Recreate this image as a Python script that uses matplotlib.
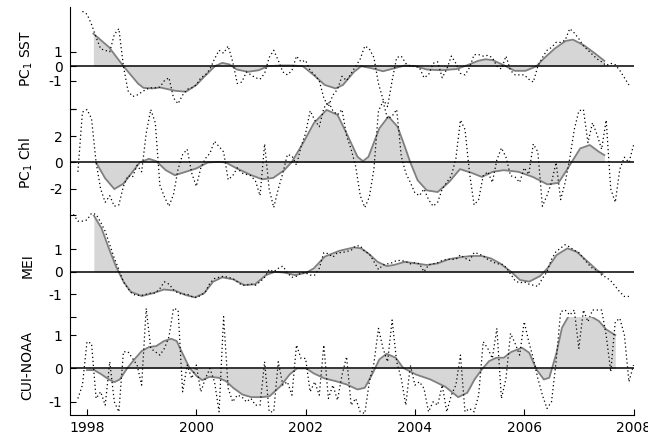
import matplotlib
matplotlib.use('Agg')
import matplotlib.pyplot as plt
import numpy as np

# monthly raw series (dotted), month 0 = Jan 1998
sst_raw_start = -1
sst_raw = [3.8, 3.6, 2.9, 2.0, 1.2, 1.1, 1.0, 2.2, 2.6, 0.0,
           -1.7, -2.1, -2.0, -1.8, -1.6, -1.5, -1.5, -1.45, -1.0, -0.8,
           -2.2, -2.6, -2.0, -1.6, -1.5, -1.3, -0.8, -0.6, -0.2, 0.5,
           1.1, 0.9, 1.4, 0.3, -1.2, -1.1, -0.4, -0.6, -0.8, -0.9,
           -0.5, 0.6, 1.1, 0.4, -0.4, -0.6, -0.3, 0.7, 0.3, 0.4,
           -0.3, -0.6, -1.0, -2.2, -2.8, -2.0, -1.6, -0.7, -1.0, -0.5,
           0.0, 0.5, 1.4, 1.2, 0.6, -1.2, -2.3, -2.8, -1.0, 0.6,
           0.7, 0.2, 0.0, 0.0, -0.1, -0.8, -0.6, 0.2, 0.3, -0.8,
           -0.2, 0.7, 0.2, -0.5, -0.6, -0.1, 0.8, 0.8, 0.7, 0.75,
           0.6, 0.0, -0.2, 0.7, -0.3, -0.6, -0.6, -0.6, -0.9, -1.1,
           0.0, 0.6, 1.1, 1.3, 1.65, 1.65, 1.8, 2.6, 2.3, 1.9,
           1.4, 1.1, 0.8, 0.5, 0.3, 0.05, 0.2, 0.1, -0.3, -0.8, -1.3]

chl_raw_start = -2
chl_raw = [-0.7, 3.8, 4.0, 3.3, 0.0, -2.0, -3.0, -2.5, -3.3, -3.2,
           -1.8, -1.0, -1.1, -0.2, -0.7, 2.2, 4.0, 3.0, -1.7, -2.6,
           -3.3, -2.4, -0.5, 0.6, 1.0, -0.8, -1.8, -0.4, 0.3, 0.7,
           1.6, 1.2, 0.8, -1.3, -1.0, -0.4, -0.8, -0.9, -1.0, -1.4,
           -2.5, 1.4, -2.0, -3.4, -2.0, -0.8, 0.6, 0.5, -0.2, 1.2,
           2.2, 3.9, 3.2, 2.7, 4.1, 4.6, 3.9, 3.6, 4.0, 2.0,
           1.0, -0.3, -2.5, -3.4, -2.6, -0.5, 3.9, 4.6, 3.3, 3.5,
           4.0, 0.5, -0.8, -1.5, -2.3, -2.5, -2.0, -2.8, -3.3, -3.0,
           -2.0, -1.5, -1.0, 0.3, 3.2, 2.5, -0.8, -3.2, -2.8, -1.0,
           -0.7, -1.5, 0.2, 1.1, 0.4, -1.0, -1.1, -1.5, -0.4, -0.9,
           1.4, 0.8, -3.3, -2.5, -1.5, 0.0, -2.8, -1.5, 0.3, 2.5,
           3.9, 4.0, 1.5, 3.0, 2.1, 1.0, 3.2, -2.0, -3.0, -0.5,
           0.4, 0.0, 1.3]

mei_raw_start = -3
mei_raw = [2.55, 2.25, 2.25, 2.3, 2.6, 2.55, 2.2, 1.8, 1.2, 0.6,
           0.1, -0.45, -0.75, -1.0, -1.05, -1.05, -1.0, -0.95, -0.95, -0.75,
           -0.45, -0.55, -0.8, -0.95, -1.0, -1.0, -1.1, -1.15, -1.05, -0.9,
           -0.5, -0.3, -0.25, -0.2, -0.25, -0.3, -0.45, -0.6, -0.6, -0.55,
           -0.6, -0.45, -0.25, 0.1, 0.0, 0.15, 0.25, -0.05, -0.25, -0.2,
           -0.05, -0.05, -0.15, -0.15, 0.15, 0.85, 0.8, 0.65, 0.85, 0.85,
           0.9, 0.95, 1.15, 1.15, 0.9, 0.8, 0.45, 0.1, 0.3, 0.35,
           0.4, 0.5, 0.5, 0.45, 0.35, 0.4, 0.35, 0.0, 0.3, 0.35,
           0.4, 0.5, 0.55, 0.55, 0.55, 0.75, 0.6, 0.5, 0.85, 0.8,
           0.7, 0.55, 0.45, 0.35, 0.35, 0.2, -0.1, -0.4, -0.5, -0.45,
           -0.55, -0.6, -0.65, -0.3, 0.0, 0.55, 0.9, 1.05, 1.2, 1.1,
           0.95, 0.85, 0.6, 0.35, 0.15, 0.05, -0.15, -0.25, -0.4, -0.65,
           -0.9, -1.1, -1.1]

cui_raw_start = -2
cui_raw = [-0.9, -0.5, 0.8, 0.75, -0.9, -0.7, -1.1, 0.2, -1.0, -1.3,
           0.5, 0.5, 0.3, 0.1, -0.5, 1.8, 0.6, 0.5, 0.4, 0.6,
           0.95, 1.8, 1.75, -0.7, 0.1, -0.3, 0.1, -0.7, -0.3, 0.0,
           -0.4, -1.3, 1.55, -0.6, -1.0, -0.8, -0.85, -1.0, -0.9, -1.1,
           -1.1, 0.2, -1.3, -1.3, 0.2, -0.5, -0.4, -0.8, 0.7, 0.3,
           0.3, -0.7, -0.4, -0.8, 0.7, -0.9, -0.5, -0.95, -0.2, 0.35,
           -1.1, -0.9, -1.3, -1.35, -0.4, 0.15, 1.2, 0.6, 0.2, 1.45,
           0.2, -0.3, -1.1, 0.1, -0.5, -0.4, -0.6, -1.3, -1.0, -1.1,
           -0.5, -1.3, -0.8, -0.5, 0.4, -1.3, -1.2, -1.3, -0.8, 0.8,
           0.6, 0.3, 1.2, -0.9, -0.3, 1.05, 0.75, 0.4, 1.4, 0.8,
           0.3, -0.3, -0.8, -1.2, -1.0, 0.2, 1.7, 1.75, 1.6, 1.75,
           0.6, 1.75, 1.4, 1.75, 1.75, 1.75, 1.0, -0.1, 1.4, 1.5,
           1.0, -0.4, 0.1]

# smoothed series (shaded), given at month positions
sst_sm_m = [1.4, 4.8, 8, 11.2, 12.4, 14.4, 16, 19.3, 21.7, 24, 25.7, 28.1,
            29.7, 31.3, 32.9, 35.3, 37.7, 39.7, 42.5, 45, 47.4, 49.8, 52.2,
            54.6, 56.2, 58.6, 60.2, 62.6, 65, 67.4, 69.8, 72.2, 74.6, 77.8,
            81.1, 83.5, 85.9, 87.5, 89.1, 91.5, 93.9, 96.3, 98.7, 100.3,
            102.7, 105.1, 106.7, 109.1, 111.6, 113.6]
sst_sm_v = [2.25, 1.33, 0.0, -1.2, -1.5, -1.54, -1.47, -1.7, -1.77, -1.3,
            -0.74, 0.0, 0.23, 0.12, -0.23, -0.39, -0.28, 0.0, 0.05, 0.05,
            0.0, -0.62, -1.3, -1.54, -1.3, -0.4, 0.0, -0.15, -0.35, -0.15,
            0.05, 0.0, -0.23, -0.28, -0.2, 0.07, 0.37, 0.48, 0.42, 0.07,
            -0.32, -0.32, 0.0, 0.53, 1.22, 1.75, 1.84, 1.45, 0.87, 0.37]

chl_sm_m = [2, 4, 6, 8, 10, 11.6, 13.6, 15.2, 17.3, 19.3, 21.7, 24, 26.5,
            28.9, 30.5, 32.9, 36.1, 38.5, 40.9, 43.3, 45, 47.4, 49.8, 52.6,
            55, 57, 59.4, 60.6, 61.8, 64.2, 66.2, 68.2, 69.8, 71, 72.6, 74.6,
            77, 79.5, 81.9, 84.3, 86.7, 89.1, 91.5, 94.7, 97.9, 101.1, 103.5,
            105.1, 106.7, 108.3, 110.4, 112.4, 113.6]
chl_sm_v = [0.0, -1.2, -2.0, -1.6, -0.7, 0.0, 0.28, 0.1, -0.58, -0.96,
            -0.7, -0.45, 0.0, 0.05, 0.0, -0.45, -0.96, -1.27, -1.16, -0.58,
            0.05, 1.44, 2.96, 3.97, 3.6, 2.2, 0.43, 0.1, 0.43, 2.58,
            3.47, 2.7, 1.19, 0.0, -1.34, -2.1, -2.23, -1.47, -0.5, -0.76,
            -1.09, -0.7, -0.58, -0.7, -1.09, -1.65, -1.54, -0.7, 0.18, 1.06,
            1.32, 0.81, 0.56]

mei_sm_m = [1.5, 3.2, 4.8, 6.4, 8, 9.6, 12, 14.4, 16.9, 19.3, 21.7, 23.7,
            25.7, 27.7, 29.7, 32.1, 34.5, 36.9, 39.3, 41.3, 43.3, 45.7, 48.2,
            49.8, 52.2, 55.4, 58.6, 60.2, 61.8, 63.8, 65.8, 67.4, 69.8, 72.2,
            74.6, 77, 79.5, 81.9, 84.3, 86.7, 88.7, 90.7, 93.1, 95.1, 97.1,
            99.5, 101.1, 103.1, 105.5, 107.5, 110, 112, 113.2]
mei_sm_v = [2.5, 1.93, 1.04, 0.22, -0.44, -0.89, -1.08, -0.96, -0.79, -0.84,
            -1.04, -1.14, -0.96, -0.44, -0.25, -0.34, -0.59, -0.56, -0.15, 0.0,
            -0.04, -0.15, -0.04, 0.15, 0.67, 0.93, 1.08, 1.04, 0.81, 0.44,
            0.25, 0.3, 0.44, 0.37, 0.3, 0.37, 0.56, 0.64, 0.7, 0.7,
            0.59, 0.37, 0.0, -0.37, -0.44, -0.19, 0.15, 0.74, 1.04, 0.89,
            0.44, 0.07, -0.1]

cui_sm_m = [0, 1.6, 3.2, 4.8, 6, 7.2, 8.8, 10.4, 12, 13.6, 15.2, 16.9, 18.5,
            19.7, 20.9, 22.5, 24.1, 25.3, 26.9, 28.9, 30.5, 32.1, 34.1, 36.1,
            38.5, 40.1, 42.5, 44.5, 46.1, 48.2, 49.8, 52.2, 54.6, 57, 59.4,
            61, 62.6, 64.2, 65.8, 67.8, 69.4, 72.2, 75.4, 78.7, 81.5, 83.5,
            85.1, 86.7, 88.3, 89.9, 91.5, 93.1, 95.5, 97.1, 98.7, 100.3,
            101.5, 103.1, 104.3, 105.9, 107.9, 109.9, 112.4, 114, 116]
cui_sm_v = [-0.05, -0.05, -0.18, -0.33, -0.41, -0.33, 0.0, 0.27, 0.52, 0.64,
            0.67, 0.82, 0.89, 0.82, 0.47, 0.02, -0.23, -0.35, -0.25, -0.28,
            -0.38, -0.58, -0.78, -0.86, -0.86, -0.83, -0.53, -0.18, 0.0, 0.0,
            -0.15, -0.3, -0.38, -0.48, -0.63, -0.58, -0.18, 0.27, 0.44, 0.32,
            0.02, -0.18, -0.33, -0.55, -0.86, -0.73, -0.33, -0.03, 0.22, 0.32,
            0.32, 0.49, 0.62, 0.47, -0.03, -0.33, -0.28, 0.47, 1.22, 1.6,
            1.67, 1.62, 1.42, 1.17, 1.0]

labels = ['PC$_1$ SST', 'PC$_1$ Chl', 'MEI', 'CUI-NOAA']
ylims = [(-3, 4.1), (-4, 4), (-2, 2.5), (-1.38, 1.55)]
yticks = [[-3, -1, 0, 1], [-4, -2, 0, 2, 4], [-2, -1, 0, 1], [-1, 0, 1]]
yticklabels = [['', '-1', '0', '1'], ['', '-2', '0', '2', ''],
               ['', '-1', '0', '1'], ['-1', '0', '1']]
xticks = [1998, 2000, 2002, 2004, 2006, 2008]

plt.rcParams['font.family'] = 'DejaVu Sans'
plt.rcParams['mathtext.default'] = 'regular'


def panel(ax, raw_start, raw, sm_m, sm_v, i):
    t_raw = 1998 + (raw_start + np.arange(len(raw))) / 12.0
    t_sm = 1998 + np.array(sm_m) / 12.0
    sm = np.array(sm_v)
    ax.fill_between(t_sm, sm, 0, color='#d6d6d6', lw=0)
    ax.plot(t_sm, sm, color='#808080', lw=1.3)
    ax.plot(t_raw, raw, color='black', lw=0.9, ls=(0, (1, 2.2)), clip_on=False)
    ax.axhline(0, color='black', lw=1.1)
    ax.set_xlim(1997.68, 2008.0)
    ax.set_ylim(ylims[i])
    ax.set_yticks(yticks[i])
    ax.set_yticklabels(yticklabels[i])
    ax.set_ylabel(labels[i], fontsize=10)
    ax.yaxis.set_label_coords(-0.062, 0.5)
    ax.patch.set_visible(False)
    for s in ['top', 'right']:
        ax.spines[s].set_visible(False)
    ax.tick_params(axis='y', direction='in', length=4, pad=5, labelsize=10)
    ax.tick_params(axis='x', direction='in', length=4, pad=5, labelsize=10)


fig = plt.figure(figsize=(6.48, 4.40), dpi=100)
left = 69.5 / 648
width = (633.5 - 69.5) / 648
# panel edges in pixels from the top of the figure
edges = [7, 109.5, 215.5, 316.7, 414.5]
data = [(sst_raw_start, sst_raw, sst_sm_m, sst_sm_v),
        (chl_raw_start, chl_raw, chl_sm_m, chl_sm_v),
        (mei_raw_start, mei_raw, mei_sm_m, mei_sm_v),
        (cui_raw_start, cui_raw, cui_sm_m, cui_sm_v)]

for i in range(4):
    top, bot = edges[i], edges[i + 1]
    ax = fig.add_axes([left, 1 - bot / 440.0, width, (bot - top) / 440.0])
    panel(ax, *data[i], i)
    if i < 3:
        ax.spines['bottom'].set_visible(False)
        ax.set_xticks([])
    else:
        ax.set_xticks(xticks)
        ax.set_xticklabels([str(x) for x in xticks])

fig.savefig('out.png', dpi=100)
